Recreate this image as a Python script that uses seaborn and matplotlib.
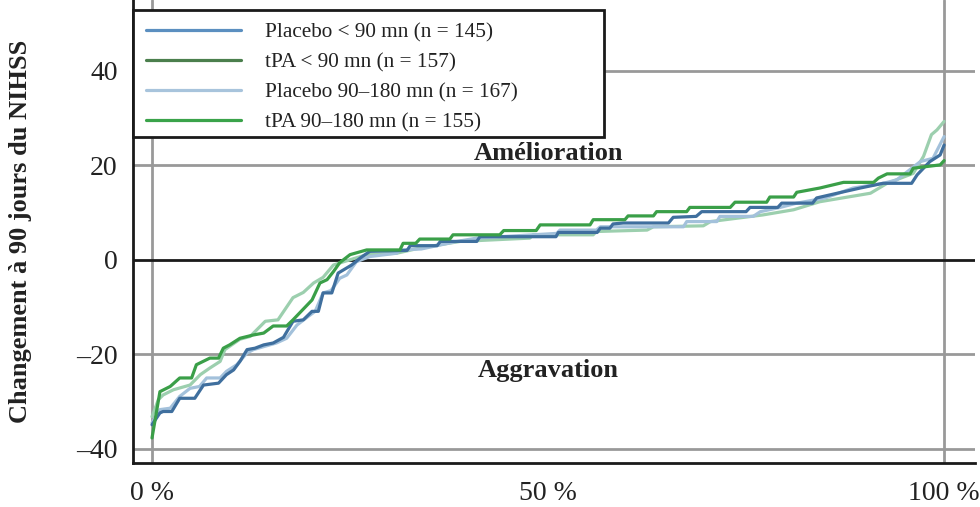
import matplotlib
matplotlib.use("Agg")
import matplotlib.pyplot as plt
from matplotlib.lines import Line2D
from matplotlib.patches import Rectangle
import seaborn as sns
import pandas as pd

# ---- data (percentile of patients, change in NIHSS at 90 days) ----
series_names = ["Placebo < 90 mn (n = 145)", "tPA < 90 mn (n = 157)",
                "Placebo 90–180 mn (n = 167)", "tPA 90–180 mn (n = 155)"]

placebo_lt90_x = [0, 1.0, 1.4, 2.5, 3.5, 5.4, 6.5, 8.4, 9.4, 10.3, 11.1, 12.0, 13.0, 14.1, 15.3,
                  16.6, 17.8, 19.1, 20.2, 21.0, 21.6, 22.7, 23.5, 24.2, 25.2, 26.3, 27.5, 32.2,
                  32.6, 36.0, 36.4, 41.0, 41.4, 51.0, 51.3, 56.2, 56.6, 57.8, 58.2, 59.5, 65.2,
                  65.8, 68.7, 69.4, 75.0, 75.5, 79.0, 79.5, 83.4, 83.9, 86.5, 89.4, 92.3, 95.9,
                  96.6, 98.2, 99.5, 100]
placebo_lt90_y = [-34.9, -32.4, -32.1, -32.1, -29.3, -29.3, -26.5, -26.1, -24.3, -23.3, -21.5,
                  -19.0, -18.7, -18.0, -17.6, -16.4, -13.0, -12.7, -10.9, -10.9, -7.0, -7.0,
                  -2.8, -2.1, -1.1, 0.4, 1.8, 2.0, 3.0, 3.0, 3.9, 3.9, 4.9, 4.9, 5.8, 5.8, 6.7,
                  6.7, 7.6, 7.8, 7.8, 9.0, 9.2, 10.2, 10.2, 11.1, 11.1, 12.0, 12.0, 13.1, 14.1,
                  15.2, 16.2, 16.2, 18.0, 20.8, 22.2, 24.3]

tpa_lt90_x = [0, 1.0, 2.3, 3.5, 5.0, 5.6, 7.3, 8.4, 9.0, 9.8, 11.1, 12.8, 14.1, 15.3, 17.0, 17.8,
              20.2, 21.2, 22.1, 22.9, 23.7, 25.0, 27.1, 31.3, 31.7, 33.3, 33.8, 37.6, 38.0, 43.9,
              44.4, 48.5, 49.0, 55.3, 55.7, 59.7, 60.1, 63.3, 63.7, 67.5, 67.9, 73.0, 73.6, 77.6,
              78.0, 81.0, 81.4, 84.3, 87.3, 91.1, 91.7, 92.8, 95.7, 96.1, 99.5, 100]
tpa_lt90_y = [-37.7, -27.9, -26.8, -25.0, -25.0, -22.2, -20.8, -20.8, -18.7, -18.0, -16.6, -15.9,
              -15.5, -14.0, -14.0, -12.7, -8.5, -4.9, -4.2, -2.5, -0.6, 1.1, 2.1, 2.1, 3.5, 3.5,
              4.4, 4.4, 5.3, 5.3, 6.2, 6.2, 7.4, 7.4, 8.5, 8.5, 9.3, 9.3, 10.2, 10.2, 11.1, 11.1,
              12.2, 12.2, 13.3, 13.3, 14.3, 15.2, 16.4, 16.4, 17.3, 18.2, 18.2, 19.4, 20.1, 21.0]

placebo_90_180_x = [0, 1.0, 2.3, 3.5, 4.8, 6.0, 6.9, 8.6, 9.4, 10.7, 12.0, 12.8, 15.7, 17.0, 18.3,
                    19.7, 20.6, 21.6, 22.6, 23.7, 24.6, 25.8, 27.5, 30.9, 31.3, 34.0, 38.5, 41.0,
                    51.1, 51.5, 56.1, 56.6, 67.1, 67.5, 71.3, 71.7, 75.9, 76.8, 79.3, 81.4, 85.0,
                    88.5, 92.3, 94.0, 97.0, 98.6, 100]
placebo_90_180_y = [-34.5, -31.7, -31.4, -28.9, -27.2, -26.8, -25.0, -25.0, -23.6, -22.2, -19.7,
                    -19.0, -17.6, -16.6, -13.8, -12.0, -10.9, -7.0, -6.5, -3.9, -3.2, -0.4, 0.7,
                    1.4, 2.1, 2.3, 3.9, 4.6, 5.6, 6.3, 6.3, 7.0, 7.0, 8.1, 8.1, 9.2, 9.2, 10.2,
                    11.1, 12.0, 13.1, 15.2, 16.2, 16.9, 20.8, 21.5, 26.1]

tpa_90_180_x = [0, 0.8, 1.4, 2.7, 4.8, 6.1, 7.3, 8.6, 9.2, 9.8, 11.1, 12.4, 14.3, 15.9, 17.8,
                19.1, 20.4, 21.6, 22.9, 24.2, 27.1, 30.9, 33.8, 38.9, 47.7, 48.1, 55.7, 56.1,
                62.5, 63.3, 69.6, 70.5, 77.1, 81.0, 84.3, 90.7, 92.8, 96.1, 97.4, 98.4, 99.1, 100]
tpa_90_180_y = [-33.2, -29.6, -28.6, -27.5, -26.5, -24.3, -22.9, -21.5, -19.0, -18.3, -16.8,
                -16.2, -13.0, -12.7, -8.0, -6.9, -4.9, -3.7, -1.1, -0.4, 1.1, 1.4, 2.5, 3.9, 4.6,
                5.3, 5.3, 6.0, 6.3, 7.0, 7.2, 8.1, 9.5, 10.6, 12.3, 14.1, 16.2, 18.3, 21.9, 26.5,
                27.5, 29.3]

y_ticks = [-40, -20, 0, 20, 40]
y_tick_labels = ["–40", "–20", "0", "20", "40"]
x_ticks = [0, 50, 100]
x_tick_labels = ["0 %", "50 %", "100 %"]

# ---- build long table ----
rows = []
for name, xs, ys in [(series_names[0], placebo_lt90_x, placebo_lt90_y),
                     (series_names[1], tpa_lt90_x, tpa_lt90_y),
                     (series_names[2], placebo_90_180_x, placebo_90_180_y),
                     (series_names[3], tpa_90_180_x, tpa_90_180_y)]:
    for i, (a, b) in enumerate(zip(xs, ys)):
        rows.append({"series": name, "pct": a, "change": b, "order": i})
df = pd.DataFrame(rows)

line_colors = {series_names[0]: "#3f6f9e", series_names[1]: "#3a9f48",
               series_names[2]: "#a3c1db", series_names[3]: "#9ccfae"}
legend_colors = ["#5b8fc0", "#4b7f4d", "#a8c4dc", "#3aa34a"]

sns.set_theme(style="white")
plt.rcParams["font.family"] = ["Liberation Serif", "DejaVu Serif"]

fig = plt.figure(figsize=(9.8, 5.07), dpi=100)
ax_h = 463
ax_w = 975 - 133
ax = fig.add_axes([133/980, 1 - 463/507, ax_w/980, ax_h/507])

# grid lines
for yv in [-40, -20, 20, 40]:
    ax.axhline(yv, color="#999999", lw=2, zorder=1)
for xv in [0, 100]:
    ax.axvline(xv, color="#999999", lw=2, zorder=1)
ax.axhline(0, color="#1a1a1a", lw=2, zorder=1)

sns.lineplot(data=df, x="pct", y="change", hue="series", palette=line_colors,
             sort=False, estimator=None, units="series", lw=2.3, ax=ax, legend=False,
             hue_order=[series_names[3], series_names[2], series_names[0], series_names[1]],
             zorder=3)

ax.set_xlim(-2.4, 103.9)
ax.set_ylim(-43, 55)
ax.set_yticks(y_ticks)
ax.set_yticklabels(y_tick_labels)
ax.set_xticks(x_ticks)
ax.set_xticklabels(x_tick_labels)
ax.tick_params(axis="y", length=8, width=1.5, labelsize=20, pad=3)
ax.tick_params(axis="x", length=10, width=1.5, labelsize=20, pad=3)
ax.tick_params(axis="both", colors="#555555", labelcolor="#222222")
ax.set_xlabel("")
ax.set_ylabel("Changement à 90 jours du NIHSS", fontsize=19, fontweight="bold",
              color="#222222")
ax.yaxis.set_label_coords((32 - 133) / ax_w, 0.5)

for s in ["top", "right"]:
    ax.spines[s].set_visible(False)
for s in ["left", "bottom"]:
    ax.spines[s].set_color("#1a1a1a")
    ax.spines[s].set_linewidth(2)

ax.text(50, 22.6, "Amélioration", ha="center", va="center", fontsize=19,
        fontweight="bold", color="#222222")
ax.text(50, -23.5, "Aggravation", ha="center", va="center", fontsize=19,
        fontweight="bold", color="#222222")

# legend box (frame drawn separately to match reference proportions)
box_top = 1 - 10 / ax_h
box_bottom = 1 - 137 / ax_h
box_w = (604 - 133) / ax_w
ax.add_patch(Rectangle((0, box_bottom), box_w, box_top - box_bottom, transform=ax.transAxes,
                       facecolor="white", edgecolor="#1a1a1a", lw=2, zorder=4,
                       clip_on=False))

handles = [Line2D([0], [0], color=c, lw=2.3) for c in legend_colors]
leg = ax.legend(handles, series_names, loc="upper left",
                bbox_to_anchor=(0, box_top - 0.2, box_w, 0.2), mode="expand",
                borderaxespad=0, frameon=False,
                fontsize=15.3, handlelength=4.5, handletextpad=1.1,
                labelspacing=0.48, borderpad=0.6)
leg.set_zorder(5)
for t in leg.get_texts():
    t.set_color("#222222")

fig.savefig("out.png", dpi=100)
